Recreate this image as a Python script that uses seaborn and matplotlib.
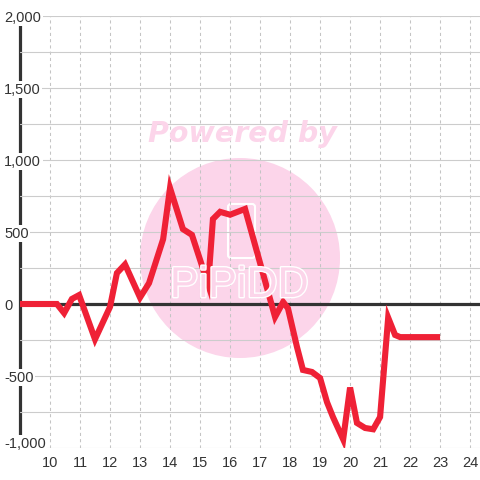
import matplotlib
matplotlib.use("Agg")
import matplotlib.pyplot as plt
import matplotlib.patches as mpatches
import matplotlib.patheffects as pe
from matplotlib.ticker import FixedLocator
import pandas as pd
import seaborn as sns

# values
hours = [9.0, 10.23, 10.47, 10.73, 10.97, 11.5, 12.0, 12.23, 12.5, 13.0,
         13.3, 13.77, 14.0, 14.43, 14.73, 15.27, 15.43, 15.67, 16.0, 16.5,
         17.5, 17.77, 17.93, 18.23, 18.43, 18.73, 19.0, 19.23, 19.43, 19.77,
         20.0, 20.23, 20.5, 20.77, 21.0, 21.27, 21.5, 21.67, 23.0]
values = [0, 0, -63, 35, 62, -245, -20, 215, 275, 45,
          145, 450, 805, 520, 480, 135, 590, 640, 620, 660,
          -90, 14, -30, -298, -458, -472, -514, -681, -785, -940,
          -580, -826, -861, -870, -785, -95, -215, -230, -230]

x_ticks = list(range(10, 25))
y_ticks = [-1000, -500, 0, 500, 1000, 1500, 2000]
y_tick_labels = ['-1,000', '-500', '0', '500', '1,000', '1,500', '2,000']
y_minor = [-750, -250, 250, 750, 1250, 1750]

df = pd.DataFrame({'hour': hours, 'value': values})

sns.set_theme(style='white')
plt.rcParams['font.family'] = ['Liberation Sans', 'DejaVu Sans']

fig = plt.figure(figsize=(4.8, 4.8), dpi=100)
ax = fig.add_axes([20 / 480, 32 / 480, 460 / 480, 432 / 480])

# watermark
pink = '#fcd5ea'
ax.add_patch(mpatches.Circle((240 / 480, 1 - 258 / 480), 100 / 480, transform=fig.transFigure,
                             facecolor=pink, edgecolor='none', zorder=0.3))
ax.add_patch(mpatches.FancyBboxPatch((228 / 480, 1 - 258 / 480), 27 / 480, 54 / 480,
                                     boxstyle='round,pad=0,rounding_size=0.006',
                                     transform=fig.transFigure, facecolor='none',
                                     edgecolor='white', lw=1.5, zorder=0.35))
fig.text(242 / 480, 1 - 134 / 480, 'Powered by', family='DejaVu Sans', fontsize=20.5,
         fontweight='heavy', fontstyle='italic', color=pink, ha='center', va='center')
fig.text(239 / 480, 1 - 286 / 480, 'PiPiDD', fontsize=31, color=pink, ha='center', va='center',
         path_effects=[pe.withStroke(linewidth=2, foreground='white')], zorder=0.4)

ax.axhline(0, color='#333333', lw=2.3, zorder=1)
sns.lineplot(data=df, x='hour', y='value', ax=ax, color='#ef2136', lw=4.4,
             zorder=3, solid_joinstyle='miter', solid_capstyle='butt')

ax.set_xlim(9.0, 24.33)
ax.set_ylim(-1000, 2000)
ax.set_xticks(x_ticks)
ax.set_xticklabels([str(t) for t in x_ticks])
ax.set_yticks(y_ticks)
ax.set_yticklabels(y_tick_labels)
ax.yaxis.set_minor_locator(FixedLocator(y_minor))
ax.set_xlabel('')
ax.set_ylabel('')

ax.set_axisbelow(True)
ax.grid(True, axis='y', which='both', color='#cccccc', lw=0.8, ls='-')
ax.grid(True, axis='x', which='major', color='#c4c4c4', lw=0.75, ls=(0, (3, 3)))

for side in ['top', 'right', 'bottom']:
    ax.spines[side].set_visible(False)
ax.spines['left'].set_color('#333333')
ax.spines['left'].set_linewidth(2.3)
ax.spines['left'].set_zorder(0.45)

ax.tick_params(axis='x', length=0, pad=5.5, labelsize=10.5, colors='#333333')
ax.tick_params(axis='y', which='both', length=0, pad=11.5, labelsize=10.5, colors='#333333')
for lab in ax.get_yticklabels():
    lab.set_ha('left')
    lab.set_bbox(dict(facecolor='white', edgecolor='none', pad=1.2))
ax.get_yticklabels()[0].set_va('baseline')

fig.savefig('out.png', dpi=100)
